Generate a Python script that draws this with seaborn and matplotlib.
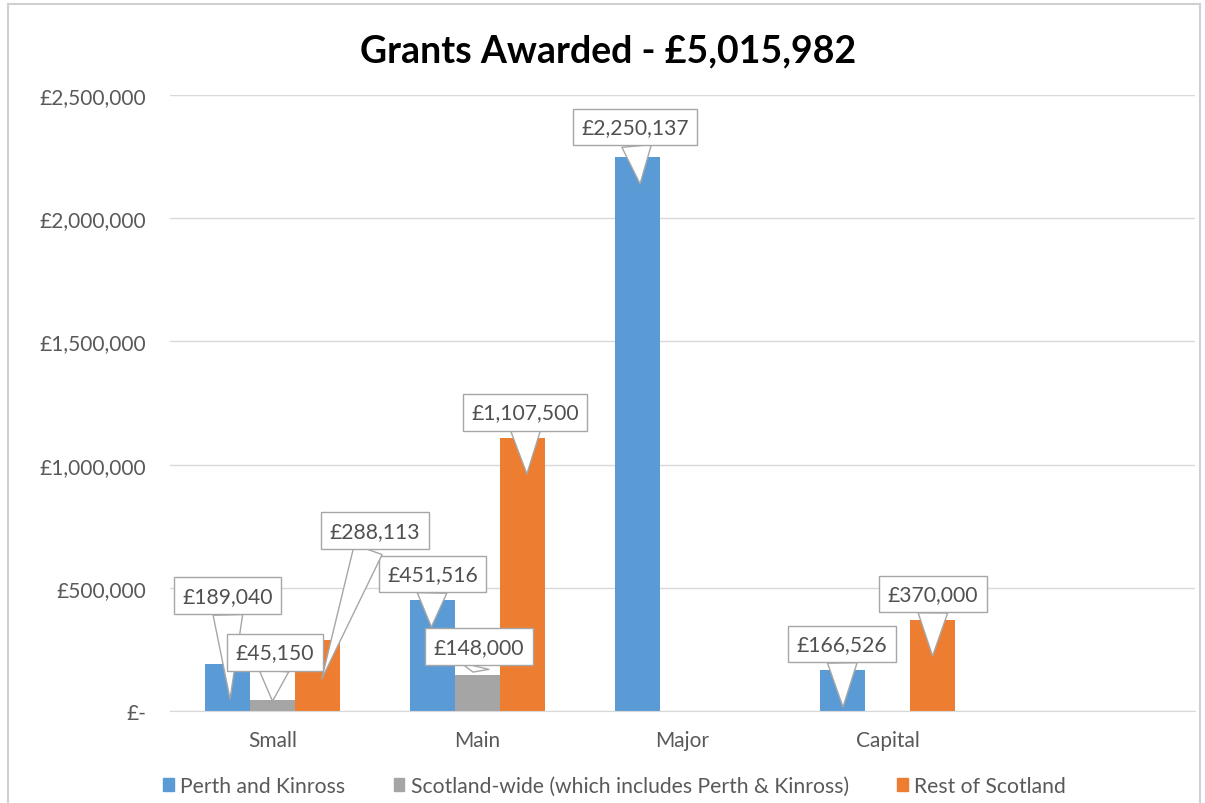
import matplotlib
matplotlib.use("Agg")
import matplotlib.pyplot as plt
import seaborn as sns
import pandas as pd
from matplotlib.patches import Rectangle
from matplotlib.ticker import FuncFormatter

# data
categories = ["Small", "Main", "Major", "Capital"]
series = ["Perth and Kinross",
          "Scotland-wide (which includes Perth & Kinross)",
          "Rest of Scotland"]
perth = [189040, 451516, 2250137, 166526]
scot_wide = [45150, 148000, 0, 0]
rest = [288113, 1107500, 0, 370000]
colors = ["#5B9BD5", "#A5A5A5", "#ED7D31"]

rows = []
for s, vals in zip(series, [perth, scot_wide, rest]):
    for c, v in zip(categories, vals):
        rows.append({"cat": c, "series": s, "value": v})
df = pd.DataFrame(rows)

# callout placement: (series, category) -> (box dx, box y, tip dx, tip y)
callouts = {
    (0, 0): (0.0, 467000, 0.013, 49000),
    (1, 0): (0.012, 239000, 0.0, 40000),
    (2, 0): (0.28, 732000, 0.02, 130000),
    (0, 1): (0.0, 556000, -0.005, 341000),
    (1, 1): (0.008, 260000, -0.022, 158000),
    (2, 1): (0.012, 1213000, 0.021, 962000),
    (0, 2): (-0.012, 2370000, 0.013, 2139000),
    (0, 3): (-0.002, 272000, 0.003, 16000),
    (2, 3): (0.002, 475000, 0.0, 223000),
}

sns.set_style("white")
plt.rcParams["font.family"] = ["Lato", "DejaVu Sans"]

fig = plt.figure(figsize=(12.05, 8.04), dpi=100)
ax = fig.add_axes([170 / 1205, 1 - 712 / 804, 1025 / 1205, 616 / 804])

sns.barplot(data=df, x="cat", y="value", hue="series", order=categories,
            hue_order=series, palette=colors, width=0.66, saturation=1,
            errorbar=None, linewidth=0, ax=ax)
ax.get_legend().remove()

ax.set_xlim(-0.5, 4.5)
ax.set_ylim(0, 2500000)
ax.set_yticks([0, 500000, 1000000, 1500000, 2000000, 2500000])
ax.yaxis.set_major_formatter(FuncFormatter(lambda v, p: "£-" if v == 0 else f"£{v:,.0f}"))
ax.set_xlabel("")
ax.set_ylabel("")
ax.grid(axis="y", color="#d9d9d9", linewidth=1)
ax.set_axisbelow(True)
for side in ["top", "right", "left"]:
    ax.spines[side].set_visible(False)
ax.spines["bottom"].set_color("#d9d9d9")
ax.tick_params(axis="both", length=0, labelsize=15, colors="#595959")
ax.tick_params(axis="y", pad=17)
ax.tick_params(axis="x", pad=14)

# callout labels
for si, cont in enumerate(ax.containers):
    for ci, bar in enumerate(cont):
        if (si, ci) not in callouts:
            continue
        bdx, by, tdx, ty = callouts[(si, ci)]
        cx = bar.get_x() + bar.get_width() / 2
        ax.annotate(f"£{bar.get_height():,.0f}", xy=(cx + tdx, ty),
                    xytext=(cx + bdx, by), ha="center", va="center",
                    fontsize=15.2, color="#505050",
                    bbox=dict(boxstyle="square,pad=0.4", fc="white", ec="#a6a6a6", lw=1),
                    arrowprops=dict(arrowstyle="wedge,tail_width=1.4,shrink_factor=0.5",
                                    fc="white", ec="#a6a6a6", lw=1,
                                    shrinkA=0, shrinkB=0),
                    zorder=5)

fig.text(0.505, 1 - 51 / 804, "Grants Awarded - £5,015,982", ha="center", va="center",
         fontsize=27, fontweight="bold", color="black")

handles = [Rectangle((0, 0), 1, 1, color=c) for c in colors]
fig.legend(handles, series, loc="center", bbox_to_anchor=(0.51, 1 - 787 / 804),
           ncol=3, frameon=False, fontsize=15.2, handlelength=0.5, handleheight=0.5,
           handletextpad=0.3, columnspacing=2.3, labelcolor="#595959")

# chart border
fig.patches.append(Rectangle((8 / 1205, -0.1), 1192 / 1205, 1.1 - 5 / 804,
                             transform=fig.transFigure, fill=False,
                             ec="#d0d0d0", lw=1.5))

fig.savefig("out.png", dpi=100)
